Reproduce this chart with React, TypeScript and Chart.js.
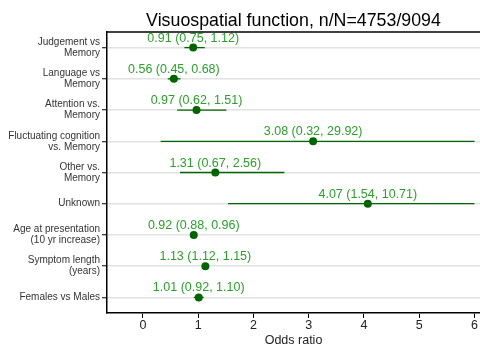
import React, { useEffect, useRef } from "react";
import { Chart, registerables } from "chart.js";

Chart.register(...registerables);

const titleText = "Visuospatial function, n/N=4753/9094";
const rowLabels: string[][] = [
  ["Judgement vs", "Memory"],
  ["Language vs", "Memory"],
  ["Attention vs.", "Memory"],
  ["Fluctuating cognition", "vs. Memory"],
  ["Other vs.", "Memory"],
  ["Unknown"],
  ["Age at presentation", "(10 yr increase)"],
  ["Symptom length", "(years)"],
  ["Females vs Males"],
];
const oddsRatio = [0.91, 0.56, 0.97, 3.08, 1.31, 4.07, 0.92, 1.13, 1.01];
const ciLow = [0.75, 0.45, 0.62, 0.32, 0.67, 1.54, 0.88, 1.12, 0.92];
const ciHigh = [1.12, 0.68, 1.51, 29.92, 2.56, 10.71, 0.96, 1.15, 1.1];
const xTicks = [0, 1, 2, 3, 4, 5, 6];
const xAxisTitle = "Odds ratio";

const FONT = "'Liberation Sans', Arial, Helvetica, sans-serif";
const DARK = "#006400";
const LABEL_GREEN = "#2ca02c";
const X_MIN = -0.65;
const X_MAX = 6.1;
const X_CLIP = 6;

export default function App() {
  const ref = useRef<HTMLCanvasElement | null>(null);

  useEffect(() => {
    document.body.style.margin = "0";
    const canvas = ref.current;
    if (!canvas) return;

    const ciDatasets = oddsRatio.map((_, i) => ({
      type: "scatter" as const,
      showLine: true,
      data: [
        { x: ciLow[i], y: i },
        { x: Math.min(ciHigh[i], X_CLIP), y: i },
      ],
      borderColor: DARK,
      borderWidth: 1.3,
      pointRadius: 0,
      pointHoverRadius: 0,
    }));

    const pointDataset = {
      type: "scatter" as const,
      data: oddsRatio.map((v, i) => ({ x: v, y: i })),
      backgroundColor: DARK,
      borderColor: DARK,
      pointRadius: 4,
      borderWidth: 0,
    };

    const overlay = {
      id: "overlay",
      afterDatasetsDraw(chart: any) {
        const { ctx, chartArea, scales } = chart;
        const xs = scales.x;
        const ys = scales.y;
        ctx.save();
        // top border
        ctx.strokeStyle = "#000";
        ctx.lineWidth = 1.5;
        ctx.beginPath();
        ctx.moveTo(chartArea.left - 0.75, chartArea.top);
        ctx.lineTo(chartArea.right, chartArea.top);
        ctx.stroke();
        // value labels
        ctx.font = `12.5px ${FONT}`;
        ctx.fillStyle = LABEL_GREEN;
        ctx.textAlign = "center";
        ctx.textBaseline = "alphabetic";
        oddsRatio.forEach((v, i) => {
          const label = `${v.toFixed(2)} (${ciLow[i].toFixed(2)}, ${ciHigh[i].toFixed(2)})`;
          ctx.fillText(label, xs.getPixelForValue(v), ys.getPixelForValue(i) - 6);
        });
        // title
        ctx.font = `17.8px ${FONT}`;
        ctx.fillStyle = "#000";
        ctx.fillText(titleText, (chartArea.left + chartArea.right) / 2, 26);
        ctx.restore();
      },
    };

    const chart = new Chart(canvas, {
      type: "scatter",
      data: { datasets: [...ciDatasets, pointDataset] as any },
      options: {
        animation: false,
        responsive: false,
        maintainAspectRatio: false,
        layout: { autoPadding: false, padding: { top: 32, right: 0, left: 0, bottom: 0 } },
        plugins: {
          legend: { display: false },
          tooltip: { enabled: false },
          title: { display: false },
        },
        scales: {
          x: {
            type: "linear",
            min: X_MIN,
            max: X_MAX,
            afterBuildTicks: (axis: any) => {
              axis.ticks = xTicks.map((v) => ({ value: v }));
            },
            afterFit: (axis: any) => {
              axis.height = 36;
              axis.paddingRight = 0;
              axis.paddingLeft = 0;
            },
            grid: {
              drawOnChartArea: false,
              drawTicks: true,
              tickLength: 5,
              tickColor: "#000",
              tickWidth: 1,
            },
            border: { display: true, color: "#000", width: 1.5 },
            ticks: {
              color: "#222",
              font: { size: 12.5, family: FONT, lineHeight: 1.1 },
              padding: 1,
              maxRotation: 0,
              callback: (v: any) => String(v),
            },
            title: {
              display: true,
              text: xAxisTitle,
              color: "#222",
              font: { size: 12.5, family: FONT, lineHeight: 1.1 },
              padding: { top: 0, bottom: 2 },
            },
          },
          y: {
            type: "linear",
            reverse: true,
            min: -0.5,
            max: 8.5,
            afterBuildTicks: (axis: any) => {
              axis.ticks = rowLabels.map((_, i) => ({ value: i }));
            },
            afterFit: (axis: any) => {
              axis.width = 107;
            },
            grid: {
              color: "#e2e2e2",
              lineWidth: 1.5,
              drawTicks: true,
              tickLength: 5,
              tickColor: "#000",
              tickWidth: 1,
            },
            border: { display: true, color: "#000", width: 1.5 },
            ticks: {
              color: "#333",
              font: { size: 10, family: FONT, lineHeight: 1.1 },
              padding: 2,
              autoSkip: false,
              callback: (v: any) => rowLabels[v as number] ?? "",
            },
          },
        },
      },
      plugins: [overlay],
    });

    return () => chart.destroy();
  }, []);

  return (
    <div style={{ width: 480, height: 349 }}>
      <canvas ref={ref} width={480} height={349} style={{ display: "block" }} />
    </div>
  );
}
